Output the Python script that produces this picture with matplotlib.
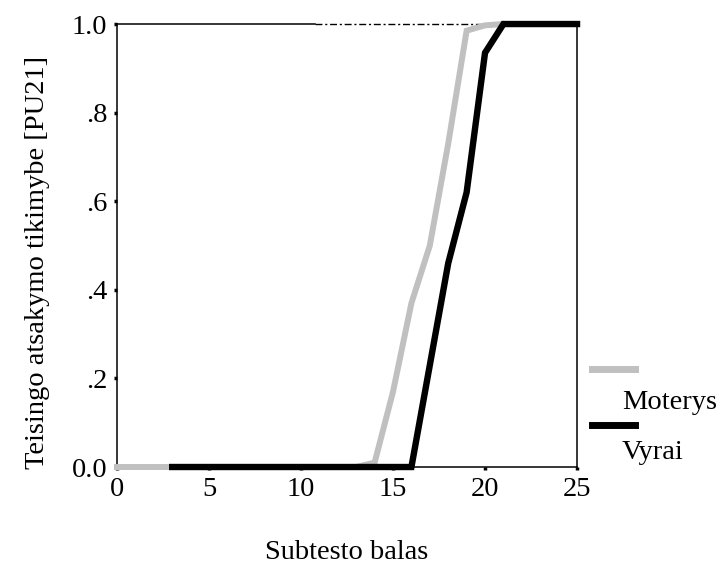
import matplotlib
matplotlib.use("Agg")
import matplotlib.pyplot as plt
from matplotlib.lines import Line2D

plt.rcParams['font.family'] = ['Liberation Serif', 'DejaVu Serif']

# tikimybiu kreives pagal subtesto bala
balas_moterys = [0, 1, 2, 3, 4, 5, 6, 7, 8, 9, 10, 11, 12, 13, 14, 15, 16, 17, 18, 19, 20, 21, 22, 23, 24, 25]
tikimybe_moterys = [0, 0, 0, 0, 0, 0, 0, 0, 0, 0, 0, 0, 0, 0, 0.01, 0.17, 0.37, 0.50, 0.73, 0.985, 0.997, 1.0, 1.0, 1.0, 1.0, 1.0]
balas_vyrai = [3, 4, 5, 6, 7, 8, 9, 10, 11, 12, 13, 14, 15, 16, 17, 18, 19, 20, 21, 22, 23, 24, 25]
tikimybe_vyrai = [0, 0, 0, 0, 0, 0, 0, 0, 0, 0, 0, 0, 0, 0, 0.23, 0.46, 0.62, 0.935, 1.0, 1.0, 1.0, 1.0, 1.0]

x_ticks = [0, 5, 10, 15, 20, 25]
y_ticks = [0.0, 0.2, 0.4, 0.6, 0.8, 1.0]
y_tick_labels = ['0.0', '.2', '.4', '.6', '.8', '1.0']
pilka = '#c0c0c0'
fs = 20.5

fig = plt.figure(figsize=(7.25, 5.68), dpi=100)
ax = fig.add_axes([0.1614, 0.1778, 0.6345, 0.7799])

ax.plot(balas_moterys, tikimybe_moterys, color=pilka, lw=4.3, clip_on=False,
        solid_joinstyle='miter', zorder=3)
ax.plot(balas_vyrai, tikimybe_vyrai, color='black', lw=4.6, clip_on=False,
        solid_joinstyle='miter', zorder=4)

ax.set_xlim(0, 25)
ax.set_ylim(0, 1)
ax.set_xticks(x_ticks)
ax.set_yticks(y_ticks)
ax.set_yticklabels(y_tick_labels)
ax.tick_params(direction='out', length=2, width=2.5, labelsize=fs, pad=5)

for s in ['left', 'right', 'bottom']:
    ax.spines[s].set_linewidth(1.1)
# virsutinis remelis: pradzioje istisinis, toliau bruksnys-taskas
ax.spines['top'].set_visible(False)
ax.plot([0, 0.43], [1, 1], color='black', lw=1.1, transform=ax.transAxes, clip_on=False, zorder=2)
ax.plot([0.43, 1], [1, 1], color='black', lw=1.0, ls=(0, (5, 2, 1.5, 2)),
        transform=ax.transAxes, clip_on=False, zorder=2)

ax.set_ylabel('Teisingo atsakymo tikimybe [PU21]', fontsize=fs, va='center')
ax.yaxis.set_label_coords(-0.172, 0.4616)
ax.set_xlabel('Subtesto balas', fontsize=fs, va='center')
ax.xaxis.set_label_coords(0.5, -0.192)

# legenda desineje
fig.add_artist(Line2D([0.817, 0.876], [0.35, 0.35], color=pilka, lw=5, transform=fig.transFigure))
fig.text(0.858, 0.291, 'Moterys', fontsize=fs, va='center', ha='left')
fig.add_artist(Line2D([0.817, 0.876], [0.252, 0.252], color='black', lw=5, transform=fig.transFigure))
fig.text(0.858, 0.204, 'Vyrai', fontsize=fs, va='center', ha='left')

fig.savefig('out.png', dpi=100)
